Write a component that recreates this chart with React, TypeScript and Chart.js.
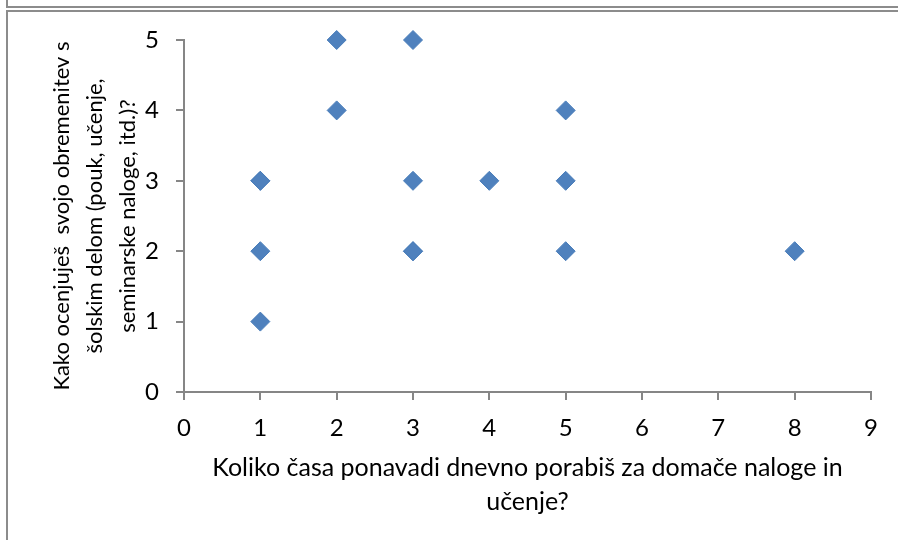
import React, { useEffect, useRef } from "react";
import { Chart, registerables } from "chart.js";

Chart.register(...registerables);

const hoursPerDay: number[] = [1, 1, 1, 1, 2, 2, 3, 3, 3, 3, 4, 5, 5, 5, 8];
const workloadRating: number[] = [3, 3, 2, 1, 5, 4, 5, 3, 2, 2, 3, 4, 3, 2, 2];

const xTitleLines: string[] = [
  "Koliko časa ponavadi dnevno porabiš za domače naloge in",
  "učenje?",
];
const yTitleLines: string[] = [
  "Kako ocenjuješ  svojo obremenitev s",
  "šolskim delom (pouk, učenje,",
  "seminarske naloge, itd.)?",
];

const xMin = 0;
const xMax = 9;
const yMin = 0;
const yMax = 5;

const FONT = "Lato, 'Open Sans', sans-serif";
const AXIS_COLOR = "#868686";

const framePlugin = {
  id: "frame",
  beforeDraw(chart: any) {
    const ctx = chart.ctx;
    ctx.save();
    ctx.fillStyle = "#ffffff";
    ctx.fillRect(0, 0, chart.width, chart.height);
    ctx.strokeStyle = "#8c8c8c";
    ctx.lineWidth = 2;
    ctx.beginPath();
    ctx.moveTo(7, 0);
    ctx.lineTo(7, 7);
    ctx.lineTo(chart.width, 7);
    ctx.moveTo(chart.width, 11);
    ctx.lineTo(7, 11);
    ctx.lineTo(7, chart.height);
    ctx.stroke();
    ctx.restore();
  },
};

export default function App() {
  const canvasRef = useRef<HTMLCanvasElement | null>(null);

  useEffect(() => {
    if (!canvasRef.current) return;
    const points = hoursPerDay.map((x, i) => ({ x, y: workloadRating[i] }));
    const chart = new Chart(canvasRef.current, {
      type: "scatter",
      data: {
        datasets: [
          {
            data: points,
            pointStyle: "rectRot",
            pointRadius: 9.5,
            pointBorderWidth: 1,
            backgroundColor: "#4F81BD",
            borderColor: "#4A7EBB",
            clip: false,
          },
        ],
      },
      options: {
        responsive: false,
        animation: false,
        devicePixelRatio: 1,
        layout: { padding: { left: 0, top: 40, right: 27, bottom: 0 } },
        plugins: {
          legend: { display: false },
          tooltip: { enabled: false },
        },
        scales: {
          x: {
            type: "linear",
            min: xMin,
            max: xMax,
            afterFit: (s: any) => {
              s.height = 148;
            },
            ticks: {
              stepSize: 1,
              color: "#000",
              font: { family: FONT, size: 24 },
              padding: 14,
              maxRotation: 0,
            },
            grid: {
              display: true,
              drawOnChartArea: false,
              drawTicks: true,
              tickLength: 8,
              color: AXIS_COLOR,
              lineWidth: 2,
            },
            border: { display: true, color: AXIS_COLOR, width: 2 },
            title: {
              display: true,
              text: xTitleLines,
              color: "#000",
              font: { family: FONT, size: 25, lineHeight: 1.36 },
              padding: { top: 0, bottom: 21 },
            },
          },
          y: {
            type: "linear",
            min: yMin,
            max: yMax,
            afterFit: (s: any) => {
              s.width = 184;
            },
            ticks: {
              stepSize: 1,
              color: "#000",
              font: { family: FONT, size: 24 },
              padding: 17,
            },
            grid: {
              display: true,
              drawOnChartArea: false,
              drawTicks: true,
              tickLength: 8,
              color: AXIS_COLOR,
              lineWidth: 2,
            },
            border: { display: true, color: AXIS_COLOR, width: 2 },
            title: {
              display: true,
              text: yTitleLines,
              color: "#000",
              font: { family: FONT, size: 22, lineHeight: 1.5 },
              padding: { top: 45.5, bottom: 0 },
            },
          },
        },
      },
      plugins: [framePlugin],
    });
    return () => chart.destroy();
  }, []);

  return (
    <div style={{ position: "fixed", left: 0, top: 0, width: 898, height: 540 }}>
      <canvas ref={canvasRef} width={898} height={540} />
    </div>
  );
}
